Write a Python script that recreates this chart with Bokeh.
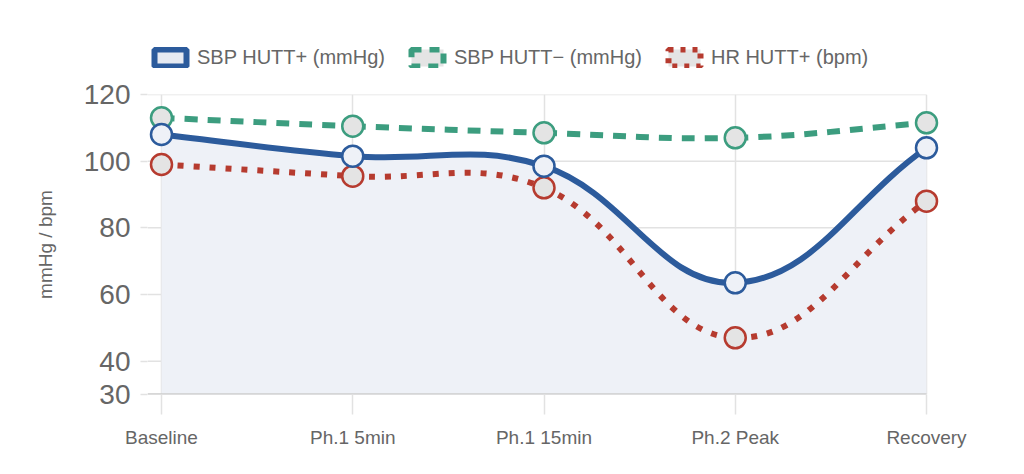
import math
import numpy as np
from bokeh.plotting import figure
from bokeh.layouts import column
from bokeh.models import Range1d, FixedTicker, Legend, LegendItem
from bokeh.embed import file_html
from bokeh.resources import INLINE

categories = ["Baseline", "Ph.1 5min", "Ph.1 15min", "Ph.2 Peak", "Recovery"]
sbp_pos = [108, 101.5, 98.5, 63.5, 104]
sbp_neg = [113, 110.5, 108.5, 107, 111.5]
hr_pos = [99, 95.5, 92, 47, 88]
y_ticks = [30, 40, 60, 80, 100, 120]
series_labels = ["SBP HUTT+ (mmHg)", "SBP HUTT\u2212 (mmHg)", "HR HUTT+ (bpm)"]

BLUE = "#2c5b9c"
GREEN = "#3c9d7f"
RED = "#b63b2f"
AREA = "#eef1f7"
GREYFILL = "#e4e4e4"
FONT = "Liberation Sans"
GRID = "#e2e2e2"

W = 1008
TOP_H = 74                      # legend strip
H = 458 - TOP_H                 # main chart
PAD = 14                        # px of room beyond first/last category for markers
ML, MR = 161 - PAD, 1008 - 926 - PAD
MT, MB = 94 - TOP_H, 458 - 394
YMIN, YMAX = 30, 120
xs = list(range(len(categories)))
XS = (926 - 161) / (len(categories) - 1)
YS = (394 - 94) / (YMAX - YMIN)
dx = PAD / XS
NAN = float("nan")


def control_points(x, y, t=0.4):
    n = len(x)
    prev_cp, next_cp = [], []
    for i in range(n):
        a, b, c = max(i - 1, 0), i, min(i + 1, n - 1)
        d01 = math.hypot((x[b] - x[a]) * XS, (y[b] - y[a]) * YS)
        d12 = math.hypot((x[c] - x[b]) * XS, (y[c] - y[b]) * YS)
        tot = d01 + d12
        s01 = d01 / tot if tot else 0
        s12 = d12 / tot if tot else 0
        fa, fb = t * s01, t * s12
        prev_cp.append((x[b] - fa * (x[c] - x[a]), y[b] - fa * (y[c] - y[a])))
        next_cp.append((x[b] + fb * (x[c] - x[a]), y[b] + fb * (y[c] - y[a])))
    return dict(x0=x[:-1], y0=y[:-1], x1=x[1:], y1=y[1:],
                cx0=[q[0] for q in next_cp[:-1]], cy0=[q[1] for q in next_cp[:-1]],
                cx1=[q[0] for q in prev_cp[1:]], cy1=[q[1] for q in prev_cp[1:]])


def sample(seg, k=40):
    px, py = [], []
    tt = np.linspace(0, 1, k)
    for i in range(len(seg["x0"])):
        bx = ((1 - tt) ** 3 * seg["x0"][i] + 3 * (1 - tt) ** 2 * tt * seg["cx0"][i]
              + 3 * (1 - tt) * tt ** 2 * seg["cx1"][i] + tt ** 3 * seg["x1"][i])
        by = ((1 - tt) ** 3 * seg["y0"][i] + 3 * (1 - tt) ** 2 * tt * seg["cy0"][i]
              + 3 * (1 - tt) * tt ** 2 * seg["cy1"][i] + tt ** 3 * seg["y1"][i])
        px.extend(bx.tolist())
        py.extend(by.tolist())
    return px, py


# ---------------- legend strip ----------------
top = figure(width=W, height=TOP_H, output_backend="svg", toolbar_location=None,
             x_axis_location=None, y_axis_location=None,
             x_range=Range1d(0, 1), y_range=Range1d(0, 1),
             min_border_left=0, min_border_right=0, min_border_top=0, min_border_bottom=0)
top.outline_line_color = None
top.xgrid.visible = False
top.ygrid.visible = False
lb = top.quad(left=[NAN], right=[NAN], top=[NAN], bottom=[NAN], fill_color="#e6eaf2",
              line_color=BLUE, line_width=6)
lg = top.quad(left=[NAN], right=[NAN], top=[NAN], bottom=[NAN], fill_color=GREYFILL,
              line_color=GREEN, line_width=6, line_dash="10 8")
lr = top.quad(left=[NAN], right=[NAN], top=[NAN], bottom=[NAN], fill_color=GREYFILL,
              line_color=RED, line_width=6, line_dash="5 7")
legend = Legend(items=[LegendItem(label=series_labels[0], renderers=[lb]),
                       LegendItem(label=series_labels[1], renderers=[lg]),
                       LegendItem(label=series_labels[2], renderers=[lr])],
                orientation="horizontal", location=(3, 5),
                glyph_width=40, glyph_height=21, label_standoff=7, spacing=22,
                padding=0, margin=0, border_line_color=None, background_fill_alpha=0,
                label_text_font=FONT, label_text_font_size="20px", label_text_color="#666666")
top.add_layout(legend, "center")

# ---------------- main chart ----------------
x_start, x_end = xs[0] - dx, xs[-1] + dx
p = figure(width=W, height=H, output_backend="svg", toolbar_location=None,
           x_range=Range1d(x_start, x_end), y_range=Range1d(YMIN, YMAX),
           min_border_left=ML, min_border_right=MR, min_border_top=MT, min_border_bottom=MB)
p.outline_line_color = None
p.background_fill_color = "white"

p.xaxis.ticker = FixedTicker(ticks=xs)
p.xaxis.major_label_overrides = {i: c for i, c in enumerate(categories)}
p.yaxis.ticker = FixedTicker(ticks=y_ticks)
p.xgrid.ticker = FixedTicker(ticks=xs)
p.xgrid.grid_line_color = GRID
p.xgrid.grid_line_width = 1.5
p.ygrid.visible = False

for ax in (p.xaxis, p.yaxis):
    ax.minor_tick_line_color = None
    ax.major_tick_in = 0
    ax.major_tick_line_color = GRID
    ax.major_tick_line_width = 1.5
    ax.major_label_text_color = "#666666"
    ax.major_label_text_font = FONT
    ax.axis_line_color = None
p.xaxis.major_tick_out = 20
p.yaxis.major_tick_out = 7
p.xaxis.major_label_text_font_size = "19px"
p.xaxis.major_label_standoff = 12
p.yaxis.major_label_text_font_size = "28px"
p.yaxis.major_label_standoff = 10
p.yaxis.axis_label = "mmHg / bpm"
p.yaxis.axis_label_text_font = FONT
p.yaxis.axis_label_text_font_style = "normal"
p.yaxis.axis_label_text_font_size = "19px"
p.yaxis.axis_label_text_color = "#666666"
p.yaxis.axis_label_standoff = 25

n_t = len(y_ticks)
p.segment(x0=[x_start] * n_t, y0=y_ticks, x1=[xs[-1]] * n_t, y1=y_ticks,
          line_color=GRID, line_width=1.5)

seg_b = control_points(xs, sbp_pos)
seg_g = control_points(xs, sbp_neg)
seg_r = control_points(xs, hr_pos)

fx, fy = sample(seg_b)
p.varea(x=fx, y1=[YMIN] * len(fx), y2=fy, fill_color=AREA)
p.segment(x0=[x_start], y0=[YMIN], x1=[xs[-1]], y1=[YMIN], line_color="#cccccc", line_width=2.5)

p.bezier(line_color=RED, line_width=6, line_dash="6 10", **seg_r)
p.scatter(xs, hr_pos, size=21, marker="circle", line_color=RED, line_width=2.5,
          fill_color=GREYFILL)
p.bezier(line_color=GREEN, line_width=6, line_dash="13 10", **seg_g)
p.scatter(xs, sbp_neg, size=21, marker="circle", line_color=GREEN, line_width=2.5,
          fill_color=GREYFILL)
p.bezier(line_color=BLUE, line_width=6, **seg_b)
p.scatter(xs, sbp_pos, size=21, marker="circle", line_color=BLUE, line_width=2.5,
          fill_color=AREA)

layout = column(top, p, spacing=0)
open("out.html", "w").write(file_html(layout, INLINE))
